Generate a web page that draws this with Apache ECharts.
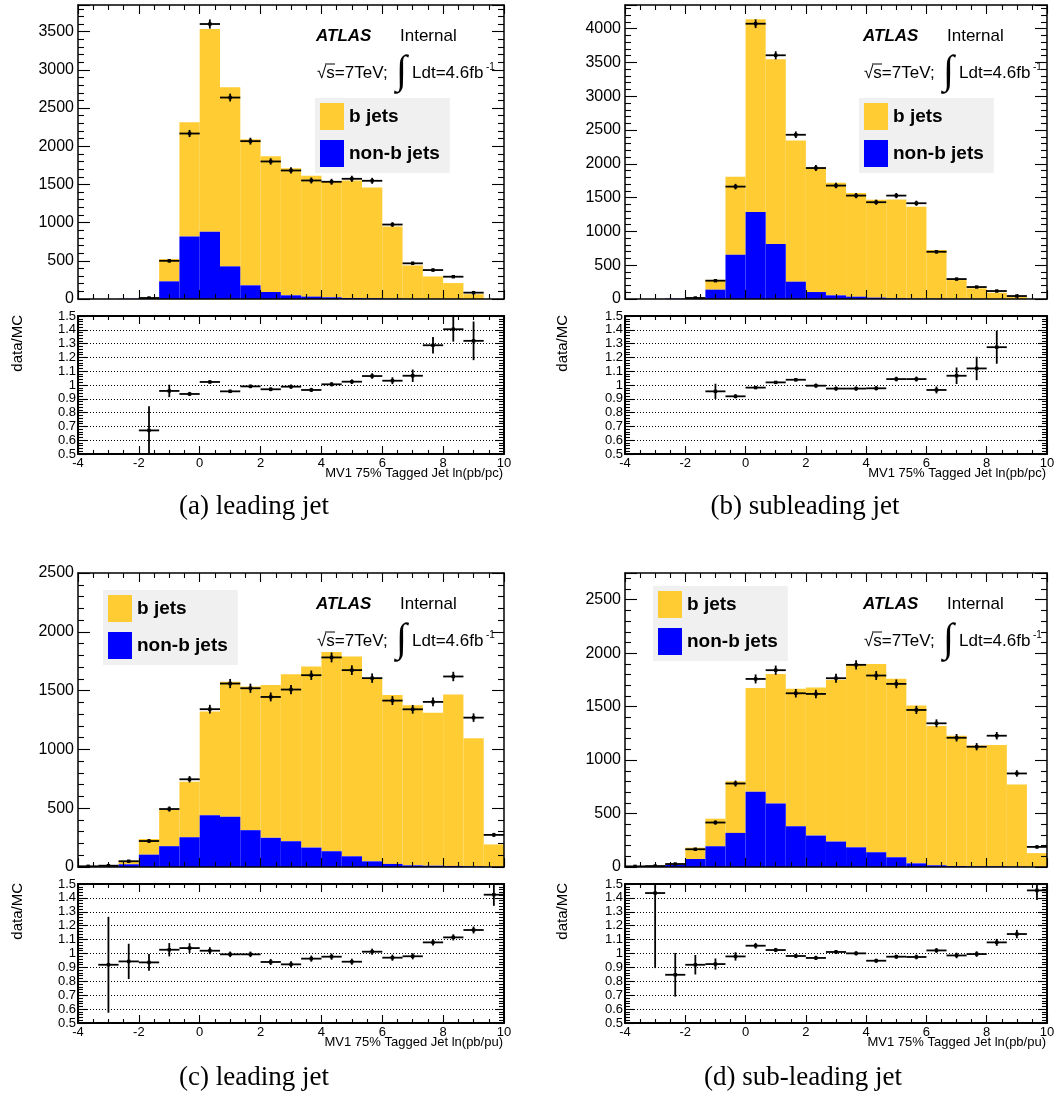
<!DOCTYPE html>
<html>
<head>
<meta charset="utf-8">
<script src="https://cdn.jsdelivr.net/npm/echarts@6/dist/echarts.min.js"></script>
<style>
  html, body { margin: 0; padding: 0; background: #fff; }
  #chart { width: 1058px; height: 1093px; }
</style>
</head>
<body>
<div id="chart"></div>
<script>
// Binning of the MV1 tagged-jet variable: 21 equal bins from -4 to 10
const X_MIN = -4, X_MAX = 10, N_BINS = 21;

// (a) leading jet, ln(pb/pc)
const bjetsA   = [0, 0, 0, 15, 292, 1495, 2655, 2346, 1914, 1778, 1665, 1582, 1517, 1539, 1452, 946, 438, 294, 208, 63, 0];
const nonbA    = [0, 0, 3, 5, 231, 820, 881, 427, 179, 92, 48, 31, 22, 13, 9, 4, 2, 1, 1, 0, 0];
const dataA    = [0, 0, 0, 13, 500, 2167, 3601, 2638, 2067, 1801, 1683, 1552, 1535, 1574, 1548, 975, 467, 379, 292, 83, 0];
const dataErrA = [0, 0, 0, 4, 22, 47, 60, 51, 45, 42, 41, 39, 39, 40, 39, 31, 22, 19, 17, 9, 0];
const ratioA    = [null, null, null, 0.671, 0.957, 0.935, 1.022, 0.954, 0.990, 0.969, 0.988, 0.964, 1.005, 1.024, 1.065, 1.031, 1.067, 1.288, 1.404, 1.320, null];
const ratioErrA = [null, null, null, 0.175, 0.045, 0.015, 0.012, 0.012, 0.013, 0.014, 0.015, 0.015, 0.016, 0.017, 0.02, 0.025, 0.045, 0.06, 0.09, 0.14, null];

// (b) subleading jet, ln(pb/pc)
const bjetsB   = [0, 0, 0, 0, 145, 1156, 2851, 2734, 2089, 1835, 1666, 1536, 1448, 1464, 1359, 722, 278, 157, 92, 28, 0];
const nonbB    = [0, 0, 5, 0, 138, 654, 1289, 812, 256, 103, 54, 34, 20, 10, 6, 4, 2, 1, 1, 0, 0];
const dataB    = [0, 0, 0, 15, 271, 1663, 4073, 3606, 2430, 1938, 1678, 1530, 1432, 1530, 1417, 699, 295, 177, 118, 44, 0];
const dataErrB = [0, 0, 0, 4, 16, 41, 64, 60, 49, 44, 41, 39, 38, 39, 38, 26, 17, 13, 11, 7, 0];
const ratioB    = [null, null, null, null, 0.954, 0.918, 0.981, 1.019, 1.038, 0.995, 0.974, 0.974, 0.976, 1.043, 1.043, 0.964, 1.067, 1.120, 1.274, null, null];
const ratioErrB = [null, null, null, null, 0.055, 0.015, 0.01, 0.01, 0.012, 0.015, 0.015, 0.015, 0.016, 0.017, 0.018, 0.025, 0.06, 0.085, 0.12, null, null];

// (c) leading jet, ln(pb/pu)
const bjetsC   = [0, 8, 29, 133, 308, 471, 881, 1149, 1222, 1299, 1421, 1539, 1694, 1699, 1558, 1437, 1361, 1301, 1457, 1089, 190];
const nonbC    = [3, 4, 23, 105, 177, 253, 441, 427, 313, 248, 219, 165, 134, 91, 48, 26, 14, 11, 9, 6, 2];
const dataC    = [6, 11, 49, 221, 493, 746, 1342, 1560, 1520, 1446, 1509, 1631, 1782, 1674, 1606, 1415, 1341, 1404, 1620, 1270, 273];
const dataErrC = [2, 3, 7, 15, 22, 27, 37, 39, 39, 38, 39, 40, 42, 41, 40, 38, 37, 37, 40, 36, 17];
const ratioC    = [null, 0.919, 0.943, 0.936, 1.027, 1.039, 1.020, 0.994, 0.994, 0.939, 0.922, 0.963, 0.977, 0.941, 1.013, 0.970, 0.980, 1.080, 1.116, 1.169, 1.423];
const ratioErrC = [null, 0.345, 0.127, 0.06, 0.048, 0.035, 0.025, 0.02, 0.02, 0.022, 0.022, 0.022, 0.022, 0.022, 0.022, 0.022, 0.022, 0.022, 0.022, 0.025, 0.08];

// (d) sub-leading jet, ln(pb/pu)
const bjetsD   = [0, 3, 12, 106, 258, 482, 972, 1211, 1286, 1384, 1514, 1713, 1761, 1671, 1477, 1302, 1219, 1130, 1136, 768, 129];
const nonbD    = [2, 3, 19, 75, 194, 319, 703, 594, 381, 294, 238, 184, 138, 91, 34, 16, 9, 6, 6, 3, 1];
const dataD    = [6, 9, 28, 166, 416, 781, 1759, 1841, 1625, 1619, 1766, 1891, 1791, 1713, 1469, 1344, 1209, 1125, 1228, 875, 188];
const dataErrD = [2, 3, 5, 13, 20, 28, 42, 43, 40, 40, 42, 43, 42, 41, 38, 37, 35, 34, 35, 30, 14];
const ratioD    = [null, 1.435, 0.847, 0.919, 0.924, 0.979, 1.056, 1.025, 0.982, 0.968, 1.011, 1.001, 0.948, 0.977, 0.975, 1.022, 0.986, 0.996, 1.080, 1.140, 1.454];
const ratioErrD = [null, 0.54, 0.157, 0.07, 0.04, 0.03, 0.02, 0.015, 0.015, 0.015, 0.015, 0.015, 0.015, 0.015, 0.017, 0.017, 0.02, 0.02, 0.025, 0.03, 0.07];

const LEGEND_NAMES = ['b jets', 'non-b jets'];
const X_TITLES = ['MV1 75% Tagged Jet ln(pb/pc)', 'MV1 75% Tagged Jet ln(pb/pc)', 'MV1 75% Tagged Jet ln(pb/pu)', 'MV1 75% Tagged Jet ln(pb/pu)'];
const CAPTIONS = ['(a) leading jet', '(b) subleading jet', '(c) leading jet', '(d) sub-leading jet'];

// ---- styling / layout ----
const SANS = '"Liberation Sans", Arial, Helvetica, sans-serif';
const SERIF = '"Liberation Serif", "Times New Roman", serif';
const B_COLOR = '#ffcc33';
const NONB_COLOR = '#0000ff';

const panels = [
  { b: bjetsA, nonb: nonbA, data: dataA, dataErr: dataErrA, ratio: ratioA, ratioErr: ratioErrA, yMax: 3850,
    left: 78, width: 426, top: 5, height: 294, rTop: 316, rHeight: 138,
    legend: { left: 315, top: 98 }, caption: [254, 507], yTitleX: 18 },
  { b: bjetsB, nonb: nonbB, data: dataB, dataErr: dataErrB, ratio: ratioB, ratioErr: ratioErrB, yMax: 4350,
    left: 625, width: 422, top: 5, height: 294, rTop: 316, rHeight: 138,
    legend: { left: 859, top: 98 }, caption: [805, 507], yTitleX: 563 },
  { b: bjetsC, nonb: nonbC, data: dataC, dataErr: dataErrC, ratio: ratioC, ratioErr: ratioErrC, yMax: 2500,
    left: 78, width: 426, top: 573, height: 294, rTop: 884, rHeight: 139,
    legend: { left: 103, top: 590 }, caption: [254, 1078], yTitleX: 18 },
  { b: bjetsD, nonb: nonbD, data: dataD, dataErr: dataErrD, ratio: ratioD, ratioErr: ratioErrD, yMax: 2750,
    left: 625, width: 422, top: 573, height: 294, rTop: 884, rHeight: 139,
    legend: { left: 653, top: 586 }, caption: [803, 1078], yTitleX: 563 }
];

const binWidth = (X_MAX - X_MIN) / N_BINS;
const binLo = i => X_MIN + i * binWidth;
const binHi = i => X_MIN + (i + 1) * binWidth;

// Filled histogram bin between two stacked levels
function histRect(params, api) {
  const lo = api.value(0), hi = api.value(1), base = api.value(2), top = api.value(3);
  if (!(top > base)) return null;
  const p0 = api.coord([lo, base]);
  const p1 = api.coord([hi, top]);
  return {
    type: 'rect',
    shape: { x: p0[0], y: p1[1], width: p1[0] - p0[0], height: p0[1] - p1[1] },
    style: { fill: api.visual('color') }
  };
}

// Data point: bin-wide horizontal bar, vertical error bar and a small marker
function crossMark(params, api) {
  const lo = api.value(0), hi = api.value(1), y = api.value(2), e = api.value(3);
  const mid = (lo + hi) / 2;
  const l = api.coord([lo, y]), r = api.coord([hi, y]);
  const up = api.coord([mid, y + e]), dn = api.coord([mid, y - e]);
  const c = api.coord([mid, y]);
  const ls = { stroke: '#000', lineWidth: 1.8 };
  return {
    type: 'group',
    children: [
      { type: 'line', shape: { x1: l[0], y1: l[1], x2: r[0], y2: r[1] }, style: ls },
      { type: 'line', shape: { x1: up[0], y1: up[1], x2: dn[0], y2: dn[1] }, style: ls },
      { type: 'rect', shape: { x: c[0] - 1.7, y: c[1] - 1.7, width: 3.4, height: 3.4 }, style: { fill: '#000' } }
    ]
  };
}

// One frame side: value axis with frame line, inward major + minor ticks and optional labels
function frameAxis(gridIndex, position, o, withLabels) {
  return {
    gridIndex, type: 'value', position, min: o.min, max: o.max, interval: o.interval, z: 5,
    axisLine: { show: true, onZero: false, lineStyle: { color: '#000', width: o.frameWidth } },
    axisTick: { show: true, inside: true, length: o.tickLen, lineStyle: { color: '#000', width: 1.1 } },
    minorTick: { show: true, splitNumber: o.minorSplit, length: o.minorLen, lineStyle: { color: '#000', width: 1.1 } },
    axisLabel: withLabels && o.label
      ? Object.assign({ show: true, color: '#000', fontFamily: SANS }, o.label)
      : { show: false },
    splitLine: o.grid
      ? { show: true, lineStyle: { color: '#000', width: 1, type: [1, 2] } }
      : { show: false },
    axisPointer: { show: false }
  };
}

function axisPair(kind, gridIndex, o) {
  const sides = kind === 'x' ? ['bottom', 'top'] : ['left', 'right'];
  return [frameAxis(gridIndex, sides[0], o, true), frameAxis(gridIndex, sides[1], o, false)];
}

const grid = [], xAxis = [], yAxis = [], series = [], legend = [], graphic = [];

panels.forEach((p, idx) => {
  const gTop = idx * 2, gRatio = idx * 2 + 1;
  grid.push({ left: p.left, top: p.top, width: p.width, height: p.height, containLabel: false });
  grid.push({ left: p.left, top: p.rTop, width: p.width, height: p.rHeight, containLabel: false });

  // main histogram frame
  xAxis.push(...axisPair('x', gTop,
    { min: X_MIN, max: X_MAX, interval: 2, frameWidth: 1.5, tickLen: 9, minorSplit: 4, minorLen: 5 }));
  yAxis.push(...axisPair('y', gTop,
    { min: 0, max: p.yMax, interval: 500, frameWidth: 1.5, tickLen: 12, minorSplit: 5, minorLen: 6,
      label: { fontSize: 16, margin: 4, showMaxLabel: p.yMax % 500 === 0,
               formatter: v => (v % 500 === 0 ? String(v) : '') } }));

  // ratio frame
  xAxis.push(...axisPair('x', gRatio,
    { min: X_MIN, max: X_MAX, interval: 2, frameWidth: 2, tickLen: 8, minorSplit: 4, minorLen: 4,
      label: { fontSize: 13, margin: 3 } }));
  yAxis.push(...axisPair('y', gRatio,
    { min: 0.5, max: 1.5, interval: 0.1, frameWidth: 2, tickLen: 9, minorSplit: 5, minorLen: 5, grid: true,
      label: { fontSize: 13, margin: 2 } }));

  const axTop = gTop * 2, axRatio = gRatio * 2;

  series.push({
    type: 'custom', name: 'non-b jets', xAxisIndex: axTop, yAxisIndex: axTop, clip: true, z: 2,
    itemStyle: { color: NONB_COLOR }, renderItem: histRect,
    data: p.nonb.map((v, i) => [binLo(i), binHi(i), 0, v])
  });
  series.push({
    type: 'custom', name: 'b jets', xAxisIndex: axTop, yAxisIndex: axTop, clip: true, z: 1,
    itemStyle: { color: B_COLOR }, renderItem: histRect,
    data: p.b.map((v, i) => [binLo(i), binHi(i), p.nonb[i], p.nonb[i] + v])
  });
  series.push({
    type: 'custom', name: 'data', xAxisIndex: axTop, yAxisIndex: axTop, clip: true, z: 3,
    itemStyle: { color: '#000' }, renderItem: crossMark,
    data: p.data.map((v, i) => [binLo(i), binHi(i), v, p.dataErr[i]]).filter(d => d[2] > 0)
  });
  series.push({
    type: 'custom', name: 'data/MC', xAxisIndex: axRatio, yAxisIndex: axRatio, clip: true, z: 3,
    itemStyle: { color: '#000' }, renderItem: crossMark,
    data: p.ratio.map((v, i) => [binLo(i), binHi(i), v, p.ratioErr[i]]).filter(d => d[2] != null)
  });

  legend.push({
    left: p.legend.left, top: p.legend.top, orient: 'vertical', selectedMode: false,
    backgroundColor: '#f0f0f0', padding: [5, 10, 6, 5], itemGap: 10,
    itemWidth: 24, itemHeight: 27, icon: 'rect',
    textStyle: { fontFamily: SANS, fontSize: 19, fontWeight: 'bold', color: '#000' },
    data: LEGEND_NAMES
  });

  // ATLAS label block
  const ax = p.left + 238, t = p.top;
  const txt = (text, x, y, font, extra) => ({
    type: 'text', z: 100, x, y,
    style: Object.assign({ text, font, fill: '#000', align: 'left', verticalAlign: 'middle' }, extra || {})
  });
  graphic.push(txt('ATLAS', ax, t + 31, 'italic bold 17px ' + SANS));
  graphic.push(txt('Internal', ax + 84, t + 31, '17px ' + SANS));
  graphic.push(txt('\u221As=7TeV;', ax + 1, t + 68, '17px ' + SANS));
  graphic.push({ type: 'line', z: 100, shape: { x1: ax + 9, y1: t + 59, x2: ax + 19, y2: t + 59 },
    style: { stroke: '#000', lineWidth: 1 } });
  graphic.push(txt('\u222B', ax + 80, t + 67, '40px ' + SERIF));
  graphic.push(txt('Ldt=4.6fb', ax + 96, t + 68, '17px ' + SANS));
  graphic.push(txt('-1', ax + 170, t + 62, '10px ' + SANS));

  // ratio axis titles
  graphic.push(txt(X_TITLES[idx], p.left + p.width - 1, p.rTop + p.rHeight + 19, '13px ' + SANS, { align: 'right' }));
  graphic.push({
    type: 'text', z: 100, x: p.yTitleX, y: p.rTop - 1, rotation: Math.PI / 2,
    style: { text: 'data/MC', font: '15px ' + SANS, fill: '#000', align: 'right', verticalAlign: 'middle' }
  });

  // sub-figure caption
  graphic.push(txt(CAPTIONS[idx], p.caption[0], p.caption[1], '27px ' + SERIF, { align: 'center' }));
});

const chart = echarts.init(document.getElementById('chart'), null, { renderer: 'canvas' });
chart.setOption({
  animation: false,
  backgroundColor: '#fff',
  grid, xAxis, yAxis, series, legend, graphic
});
</script>
</body>
</html>
